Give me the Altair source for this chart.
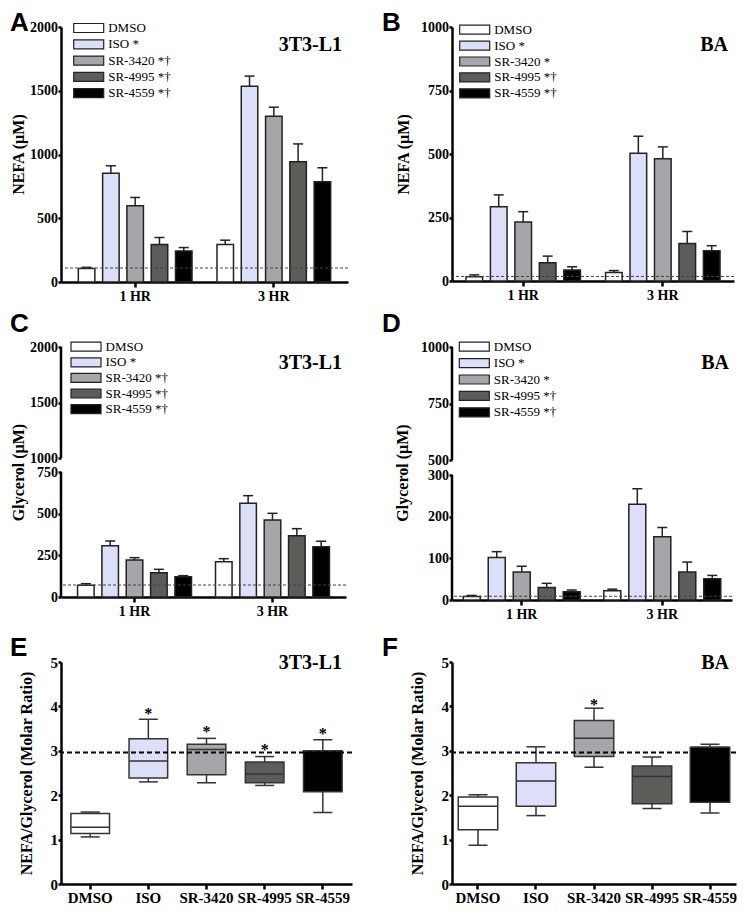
import altair as alt
import pandas as pd

SERIF = "Liberation Serif"
SANS = "Liberation Sans"

TREATS = ["DMSO", "ISO", "SR-3420", "SR-4995", "SR-4559"]
TIMES = ["1 HR", "3 HR"]
COLORS = ["#ffffff", "#dcdff7", "#a6a6aa", "#5a5d58", "#000000"]

LABELS_3T3 = ["DMSO", "ISO *", "SR-3420 *†", "SR-4995 *†", "SR-4559 *†"]
LABELS_BA = ["DMSO", "ISO *", "SR-3420 *", "SR-4995 *†", "SR-4559 *†"]

# Panel A: NEFA, 3T3-L1 (mean and mean+SEM)
A_VAL_1 = [105, 852, 598, 294, 244]
A_ERR_1 = [115, 912, 663, 349, 270]
A_VAL_3 = [294, 1536, 1300, 944, 786]
A_ERR_3 = [328, 1615, 1371, 1083, 896]
A_BASE = 110

# Panel B: NEFA, BA
B_VAL_1 = [17, 292, 232, 72, 43]
B_ERR_1 = [24, 339, 273, 98, 56]
B_VAL_3 = [33, 503, 481, 148, 119]
B_ERR_3 = [41, 570, 528, 195, 139]
B_BASE = 18

# Panel C: Glycerol, 3T3-L1
C_VAL_1 = [70, 308, 222, 146, 122]
C_ERR_1 = [80, 336, 236, 166, 128]
C_VAL_3 = [212, 562, 462, 368, 302]
C_ERR_3 = [230, 608, 502, 410, 334]
C_BASE = 72

# Panel D: Glycerol, BA
D_VAL_1 = [8.5, 102, 67, 30, 20]
D_ERR_1 = [11, 116, 81, 40, 24]
D_VAL_3 = [22.5, 230, 152, 67, 51]
D_ERR_3 = [26, 267, 174, 91, 59]
D_BASE = 9

# Panel E: NEFA/Glycerol ratio, 3T3-L1 (box plots)
E_MIN = [1.06, 2.30, 2.28, 2.22, 1.61]
E_Q1 = [1.14, 2.39, 2.46, 2.28, 2.08]
E_MED = [1.28, 2.77, 3.03, 2.48, 3.00]
E_Q3 = [1.59, 3.27, 3.15, 2.75, 3.00]
E_MAX = [1.62, 3.71, 3.28, 2.87, 3.25]
E_STAR_CATS = ["ISO", "SR-3420", "SR-4995", "SR-4559"]
E_STAR_Y = [3.90, 3.50, 3.09, 3.45]

# Panel F: NEFA/Glycerol ratio, BA
F_MIN = [0.87, 1.54, 2.63, 1.70, 1.60]
F_Q1 = [1.22, 1.75, 2.87, 1.81, 1.84]
F_MED = [1.75, 2.32, 3.28, 2.42, 3.08]
F_Q3 = [1.96, 2.73, 3.68, 2.66, 3.08]
F_MAX = [2.01, 3.09, 3.96, 2.86, 3.15]
F_STAR_CATS = ["SR-3420"]
F_STAR_Y = [4.11]

RATIO_BASE = 2.96

SWATCH = "M-3.333,-1L3.333,-1L3.333,1L-3.333,1Z"


def text_layer(txt, x, y, font, size, align, baseline):
    return alt.Chart(pd.DataFrame({"t": [txt]})).mark_text(
        font=font, fontSize=size, fontWeight="bold", align=align,
        baseline=baseline, color="black"
    ).encode(text="t:N", x=alt.value(x), y=alt.value(y))


def y_axis(values, title, tx, ty, lsize, domain=True):
    return alt.Axis(
        values=values, title=title, titleX=tx, titleY=ty, titleAngle=270,
        titleAlign="center", titleBaseline="middle", titleFontSize=16,
        labelFontSize=lsize, tickSize=3, labelPadding=0.5, domain=domain,
        format="d", labelOverlap=False,
    )


def bar_panel(v1, e1, v3, e3, labels, base, scale, yticks, ytitle, title_xy,
              cell, cell_xy, letter, letter_xy, legend_xy, row_pad,
              width, height, pi, po, segments=None):
    n = len(TREATS)
    df = pd.DataFrame({
        "time": [TIMES[0]] * n + [TIMES[1]] * n,
        "treat": TREATS * 2,
        "lab": labels * 2,
        "val": v1 + v3,
        "err": e1 + e3,
    })
    ax = y_axis(yticks, ytitle, title_xy[0], title_xy[1], 14,
                domain=segments is None)

    def Y(f):
        return alt.Y(f, type="quantitative", scale=scale, axis=ax, stack=None)

    X = alt.X("time:N", sort=TIMES,
              scale=alt.Scale(domain=TIMES, paddingInner=pi, paddingOuter=po),
              axis=alt.Axis(title=None, labelAngle=0, labelFontSize=14,
                            tickSize=5, labelPadding=2))
    XO = alt.XOffset("treat:N", sort=TREATS,
                     scale=alt.Scale(domain=TREATS, paddingInner=0.32,
                                     paddingOuter=0))
    b = alt.Chart(df)
    rule = b.mark_rule(color="#222", strokeWidth=1.5).encode(
        x=X, xOffset=XO, y=Y("val"), y2="err:Q")
    cap = b.mark_tick(orient="horizontal", size=10, thickness=1.5,
                      color="#222", opacity=1).encode(
        x=X, xOffset=XO, y=Y("err"))
    bars = b.mark_bar(stroke="#222", strokeWidth=1.5, opacity=1).encode(
        x=X, xOffset=XO, y=Y("val"),
        color=alt.Color("lab:N", scale=alt.Scale(domain=labels, range=COLORS),
                        legend=alt.Legend(
                            title=None, orient="none",
                            legendX=legend_xy[0], legendY=legend_xy[1],
                            symbolType=SWATCH, symbolSize=81,
                            symbolOffset=5.5, labelOffset=13,
                            labelFont=SERIF, labelFontSize=13,
                            labelColor="black", rowPadding=row_pad,
                            padding=0, symbolStrokeColor="#222",
                            symbolStrokeWidth=1.2, symbolOpacity=1)))
    dash = alt.Chart(pd.DataFrame({"d": [base]})).mark_rule(
        strokeDash=[3, 2], color="#444", strokeWidth=1).encode(y=Y("d"))
    layers = [rule, cap, bars, dash]
    if segments is not None:
        seg = alt.Chart(pd.DataFrame({"s": segments[0], "e": segments[1]})).mark_rule(
            color="black", strokeWidth=2.5).encode(
            x=alt.value(0), y=Y("s"), y2="e:Q")
        layers.append(seg)
    layers.append(text_layer(cell, cell_xy[0], cell_xy[1], SERIF, 20, "right", "middle"))
    layers.append(text_layer(letter, letter_xy[0], letter_xy[1], SANS, 26, "left", "top"))
    return alt.layer(*layers).properties(width=width, height=height)


def box_panel(mins, q1, med, q3, maxs, star_cats, star_y, title_xy, cell,
              cell_xy, letter, letter_xy, width, height, pi, po):
    df = pd.DataFrame({"cat": TREATS, "lo": mins, "q1": q1, "med": med,
                       "q3": q3, "hi": maxs})
    scale = alt.Scale(domain=[0, 5], nice=False)
    ax = y_axis([0, 1, 2, 3, 4, 5], "NEFA/Glycerol (Molar Ratio)",
                title_xy[0], title_xy[1], 15)

    def Y(f):
        return alt.Y(f, type="quantitative", scale=scale, axis=ax)

    X = alt.X("cat:N", sort=TREATS,
              scale=alt.Scale(domain=TREATS, paddingInner=pi, paddingOuter=po),
              axis=alt.Axis(title=None, labelAngle=0, labelFontSize=15,
                            tickSize=5, labelPadding=1))
    b = alt.Chart(df)
    whisk = b.mark_rule(color="#333", strokeWidth=1.5).encode(
        x=X, y=Y("lo"), y2="hi:Q")
    cap_lo = b.mark_tick(orient="horizontal", size=19, thickness=1.5,
                         color="#333", opacity=1).encode(x=X, y=Y("lo"))
    cap_hi = b.mark_tick(orient="horizontal", size=19, thickness=1.5,
                         color="#333", opacity=1).encode(x=X, y=Y("hi"))
    box = b.mark_bar(stroke="#333", strokeWidth=1.5, opacity=1).encode(
        x=X, y=Y("q1"), y2="q3:Q",
        color=alt.Color("cat:N", scale=alt.Scale(domain=TREATS, range=COLORS),
                        legend=None))
    median = b.mark_tick(orient="horizontal", size=38, thickness=1.5,
                         color="#333", opacity=1).encode(x=X, y=Y("med"))
    stars = alt.Chart(pd.DataFrame({"cat": star_cats, "s": star_y})).mark_text(
        text="*", font=SERIF, fontSize=16, fontWeight="bold", color="black",
        baseline="middle", dy=3).encode(x=X, y=Y("s"))
    dash = alt.Chart(pd.DataFrame({"d": [RATIO_BASE]})).mark_rule(
        strokeDash=[5, 3], color="black", strokeWidth=2).encode(y=Y("d"))
    layers = [whisk, cap_lo, cap_hi, box, median, stars, dash,
              text_layer(cell, cell_xy[0], cell_xy[1], SERIF, 20, "right", "middle"),
              text_layer(letter, letter_xy[0], letter_xy[1], SANS, 26, "left", "top")]
    return alt.layer(*layers).properties(width=width, height=height)


pA = bar_panel(A_VAL_1, A_ERR_1, A_VAL_3, A_ERR_3, LABELS_3T3, A_BASE,
               alt.Scale(domain=[0, 2000], nice=False),
               [0, 500, 1000, 1500, 2000], "NEFA (µM)", (-42.5, 127),
               "3T3-L1", (281, 18), "A", (-51, -17), (15.7, -5.5), 1.3,
               287, 255, 0.18, 0.125)
pB = bar_panel(B_VAL_1, B_ERR_1, B_VAL_3, B_ERR_3, LABELS_BA, B_BASE,
               alt.Scale(domain=[0, 1000], nice=False),
               [0, 250, 500, 750, 1000], "NEFA (µM)", (-49, 127),
               "BA", (276, 18), "B", (-70, -17), (10.7, -3.8), 0.9,
               282, 254, 0.18, 0.10)
pC = bar_panel(C_VAL_1, C_ERR_1, C_VAL_3, C_ERR_3, LABELS_3T3, C_BASE,
               alt.Scale(domain=[0, 750, 1000, 2000], range=[253, 128, 114, 3],
                         nice=False, zero=False),
               [0, 250, 500, 750, 1000, 1500, 2000], "Glycerol (µM)", (-42.5, 128),
               "3T3-L1", (281, 19), "C", (-51, -33), (13, -3.8), 0.6,
               285, 253, 0.174, 0.12, segments=([0, 1000], [750, 2000]))
pD = bar_panel(D_VAL_1, D_ERR_1, D_VAL_3, D_ERR_3, LABELS_BA, D_BASE,
               alt.Scale(domain=[0, 300, 500, 1000], range=[256, 131, 116, 3],
                         nice=False, zero=False),
               [0, 100, 200, 300, 500, 750, 1000], "Glycerol (µM)", (-50, 128.5),
               "BA", (277, 19), "D", (-70, -33), (10.3, -3.8), 1.4,
               280, 256, 0.168, 0.08, segments=([0, 500], [300, 1000]))
pE = box_panel(E_MIN, E_Q1, E_MED, E_Q3, E_MAX, E_STAR_CATS, E_STAR_Y,
               (-35, 111), "3T3-L1", (281, 1), "E", (-51, -27), 291, 222,
               0.336, 0.17)
pF = box_panel(F_MIN, F_Q1, F_MED, F_Q3, F_MAX, F_STAR_CATS, F_STAR_Y,
               (-35, 111), "BA", (277, 1), "F", (-70, -27), 284, 222,
               0.32, 0.108)

chart = alt.concat(
    pA, pB, pC, pD, pE, pF, columns=2, align="each", bounds="flush",
    spacing={"row": 62, "column": 100},
).resolve_scale(
    x="independent", y="independent", color="independent", xOffset="independent"
).resolve_legend(color="independent").properties(
    padding={"left": 2, "top": 2, "right": 0, "bottom": 0}, background="white"
).configure_view(strokeWidth=0).configure_axis(
    labelFont=SERIF, labelFontWeight="bold", labelColor="black",
    titleFont=SERIF, titleFontWeight="bold", titleColor="black",
    domainColor="black", domainWidth=2.5, tickColor="black", tickWidth=2.5,
    grid=False,
)

chart.save("out.html", embed_options={"renderer": "svg", "actions": False})
